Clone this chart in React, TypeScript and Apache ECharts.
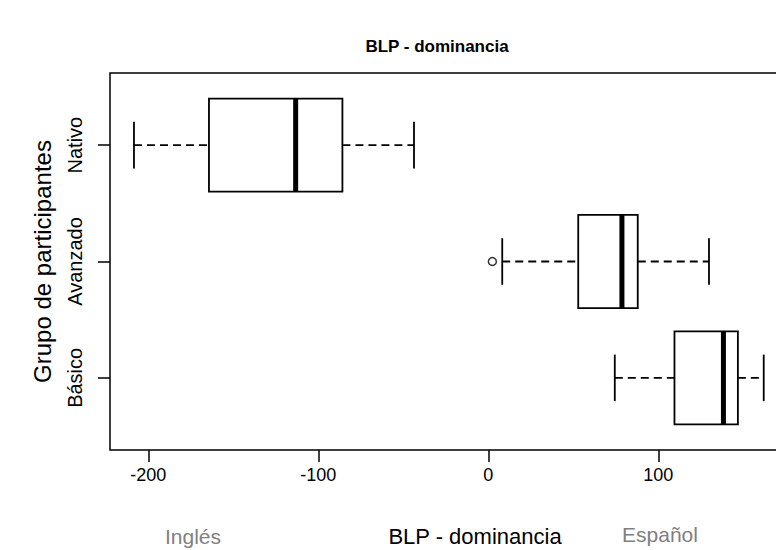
import React, { useEffect, useRef } from "react";
import * as echarts from "echarts";

// Groups, bottom to top (R boxplot order)
const categories = ["Básico", "Avanzado", "Nativo"];
const whiskerLow = [74.4, 8.2, -208.4];
const quartile1 = [109.5, 52.9, -164.3];
const medians = [138.3, 78.6, -113.3];
const quartile3 = [146.8, 87.9, -85.8];
const whiskerHigh = [162.0, 129.8, -43.7];
const outlierGroups = ["Avanzado"];
const outlierValues = [2.4];
const xTicks = [-200, -100, 0, 100];

const titleText = "BLP - dominancia";
const xLabel = "BLP - dominancia";
const yLabel = "Grupo de participantes";
const leftNote = "Inglés";
const rightNote = "Español";

export default function App() {
  const ref = useRef<HTMLDivElement>(null);
  useEffect(() => {
    if (!ref.current) return;
    const chart = echarts.init(ref.current, null, { renderer: "svg" });
    const font = "'Liberation Sans', Arial, sans-serif";
    const boxData = categories.map((c, i) => [
      i + 1,
      whiskerLow[i],
      quartile1[i],
      medians[i],
      quartile3[i],
      whiskerHigh[i],
    ]);
    const outData = outlierGroups.map((g, i) => [
      outlierValues[i],
      categories.indexOf(g) + 1,
    ]);
    const renderItem = (params: any, api: any) => {
      const y = api.value(0);
      const mn = api.value(1);
      const q1 = api.value(2);
      const md = api.value(3);
      const q3 = api.value(4);
      const mx = api.value(5);
      const yc = api.coord([0, y])[1];
      const half = api.size([0, 0.4])[1];
      const cap = api.size([0, 0.2])[1];
      const X = (v: number) => api.coord([v, y])[0];
      const lineStyle = { stroke: "#000", lineWidth: 1.8, fill: null };
      const dashStyle = { stroke: "#000", lineWidth: 1.8, lineDash: [8, 5], fill: null };
      return {
        type: "group",
        children: [
          { type: "line", shape: { x1: X(mn), y1: yc, x2: X(q1), y2: yc }, style: dashStyle },
          { type: "line", shape: { x1: X(q3), y1: yc, x2: X(mx), y2: yc }, style: dashStyle },
          { type: "line", shape: { x1: X(mn), y1: yc - cap, x2: X(mn), y2: yc + cap }, style: lineStyle },
          { type: "line", shape: { x1: X(mx), y1: yc - cap, x2: X(mx), y2: yc + cap }, style: lineStyle },
          {
            type: "rect",
            shape: { x: X(q1), y: yc - half, width: X(q3) - X(q1), height: 2 * half },
            style: { fill: "#fff", stroke: "#000", lineWidth: 1.8 },
          },
          { type: "line", shape: { x1: X(md), y1: yc - half, x2: X(md), y2: yc + half }, style: { stroke: "#000", lineWidth: 5 } },
        ],
      };
    };
    chart.setOption({
      animation: false,
      backgroundColor: "#fff",
      textStyle: { fontFamily: font },
      grid: {
        left: 110,
        right: 10.6,
        top: 73,
        bottom: 100,
        show: true,
        borderColor: "#000",
        borderWidth: 1.5,
        backgroundColor: "transparent",
      },
      xAxis: {
        type: "value",
        min: -222.5,
        max: 177.1,
        splitLine: { show: false },
        axisLine: { show: false, onZero: false },
        axisTick: {
          show: true,
          customValues: xTicks,
          length: 12,
          lineStyle: { color: "#000", width: 1.5 },
        },
        axisLabel: {
          customValues: xTicks,
          color: "#000",
          fontSize: 18,
          margin: 16,
          fontFamily: font,
        },
      },
      yAxis: {
        type: "value",
        min: 0.38,
        max: 3.62,
        name: yLabel,
        nameLocation: "middle",
        nameGap: 56,
        nameRotate: 90,
        nameTextStyle: { color: "#000", fontSize: 24, fontFamily: font },
        splitLine: { show: false },
        axisLine: { show: false, onZero: false },
        axisTick: {
          show: true,
          customValues: [1, 2, 3],
          length: 12,
          lineStyle: { color: "#000", width: 1.5 },
        },
        axisLabel: {
          customValues: [1, 2, 3],
          rotate: 90,
          color: "#000",
          fontSize: 20,
          margin: 25,
          fontFamily: font,
          formatter: (v: number) => categories[Math.round(v) - 1],
        },
      },
      graphic: [
        {
          type: "text",
          x: 437,
          y: 46,
          style: {
            text: titleText,
            font: `bold 17px ${font}`,
            fill: "#000",
            align: "center",
            verticalAlign: "middle",
          },
        },
        {
          type: "text",
          x: 475,
          y: 536,
          style: {
            text: xLabel,
            font: `22px ${font}`,
            fill: "#000",
            align: "center",
            verticalAlign: "middle",
          },
        },
        {
          type: "text",
          x: 193,
          y: 536,
          style: {
            text: leftNote,
            font: `21px ${font}`,
            fill: "#808080",
            align: "center",
            verticalAlign: "middle",
          },
        },
        {
          type: "text",
          x: 660,
          y: 534,
          style: {
            text: rightNote,
            font: `21px ${font}`,
            fill: "#808080",
            align: "center",
            verticalAlign: "middle",
          },
        },
      ],
      series: [
        {
          type: "custom",
          renderItem,
          data: boxData,
          encode: { x: [1, 2, 3, 4, 5], y: 0 },
          clip: false,
          silent: true,
        },
        {
          type: "scatter",
          data: outData,
          symbol: "circle",
          symbolSize: 8,
          itemStyle: { color: "#fff", borderColor: "#000", borderWidth: 1.5 },
          silent: true,
        },
      ],
    });
    return () => chart.dispose();
  }, []);
  return (
    <div
      style={{
        position: "fixed",
        left: 0,
        top: 0,
        width: 776,
        height: 550,
        overflow: "hidden",
      }}
    >
      <div ref={ref} style={{ width: 800, height: 550 }} />
    </div>
  );
}
